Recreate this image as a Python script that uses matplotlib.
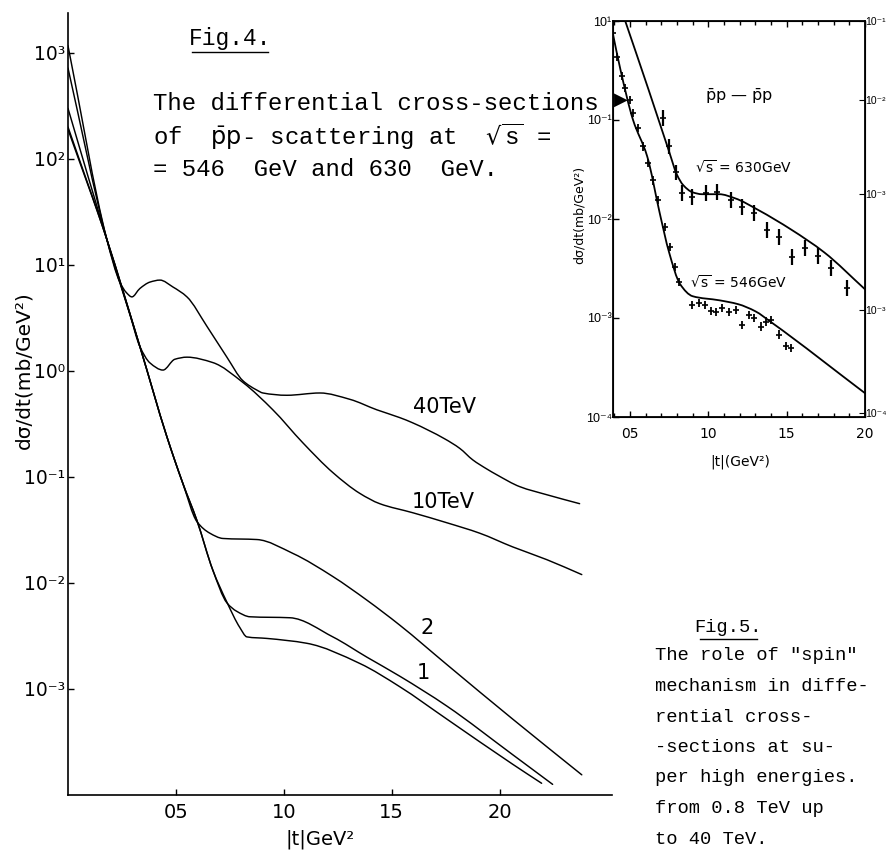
import numpy as np
import matplotlib
matplotlib.use("Agg")
import matplotlib.pyplot as plt
from matplotlib.ticker import NullLocator, FixedLocator
from matplotlib.path import Path
from matplotlib.patches import PathPatch

plt.rcParams['mathtext.default'] = 'regular'

# ---------------- Fig.4 main panel: |t| (GeV^2) vs dσ/dt (mb/GeV^2) ----------------
t_40 = [0, 0.18, 0.24, 0.27, 0.296, 0.333, 0.38, 0.426, 0.486, 0.551, 0.644, 0.736, 0.81,
        0.875, 0.903, 1.014, 1.167, 1.306, 1.431, 1.537, 1.597, 1.745, 1.815, 1.875, 1.94,
        1.986, 2.093, 2.218, 2.37]
y_40 = [1.17e3, 17.4, 6.9, 5.5, 5.0, 6.0, 6.9, 7.2, 6.2, 5.0, 2.63, 1.35, 0.81,
        0.66, 0.62, 0.59, 0.62, 0.54, 0.43, 0.363, 0.324, 0.229, 0.186, 0.145, 0.119,
        0.105, 0.081, 0.068, 0.056]

t_10 = [0, 0.18, 0.287, 0.333, 0.38, 0.44, 0.495, 0.551, 0.671, 0.81, 0.949, 1.088, 1.227,
        1.352, 1.444, 1.597, 1.755, 1.907, 2.06, 2.218, 2.38]
y_10 = [720, 17.4, 3.4, 1.7, 1.19, 1.02, 1.29, 1.35, 1.2, 0.78, 0.43, 0.21, 0.11,
        0.07, 0.056, 0.046, 0.037, 0.0295, 0.0219, 0.0166, 0.012]

t_2 = [0, 0.18, 0.333, 0.458, 0.532, 0.597, 0.657, 0.718, 0.875, 1.042, 1.227, 1.384,
       1.537, 1.755, 2.06, 2.38]
y_2 = [300, 17.4, 1.7, 0.24, 0.087, 0.038, 0.0295, 0.0263, 0.0257, 0.019, 0.0115, 0.0069,
       0.0040, 0.0017, 5.2e-4, 1.55e-4]

t_1 = [0, 0.18, 0.333, 0.458, 0.532, 0.597, 0.671, 0.736, 0.782, 0.843, 1.028, 1.227,
       1.384, 1.537, 1.755, 2.06, 2.245]
y_1 = [200, 17.4, 1.7, 0.24, 0.087, 0.039, 0.0132, 0.0065, 0.0054, 0.0048, 0.0047, 0.0031,
       0.0020, 0.00132, 6.9e-4, 2.4e-4, 1.26e-4]

t_0 = [0, 0.18, 0.333, 0.458, 0.532, 0.597, 0.671, 0.736, 0.796, 0.829, 0.921, 1.106,
       1.352, 1.537, 1.755, 2.06, 2.194]
y_0 = [190, 17.4, 1.7, 0.24, 0.087, 0.039, 0.0132, 0.0066, 0.0038, 0.0031, 0.0030, 0.0027,
       0.00174, 0.00105, 5.2e-4, 1.95e-4, 1.29e-4]

main_yticks = [1e-3, 1e-2, 1e-1, 1e0, 1e1, 1e2, 1e3]
main_yticklabels = ['10⁻³', '10⁻²', '10⁻¹', '10⁰', '10¹', '10²', '10³']
main_xticks = [0.5, 1.0, 1.5, 2.0]
main_xticklabels = ['05', '10', '15', '20']

# ---------------- Fig.4 inset: p̄p -> p̄p at 630 and 546 GeV ----------------
t_630 = [0.47, 0.62, 0.75, 0.80, 0.84, 0.90, 0.96, 1.07, 1.17, 1.32, 1.53, 1.74, 2.0]
y_630 = [1.0, 0.2, 0.048, 0.028, 0.022, 0.0186, 0.0178, 0.0178, 0.0162, 0.0123, 0.0078, 0.0046, 0.00195]
t_546 = [0.39, 0.44, 0.52, 0.61, 0.69, 0.75, 0.82, 0.90, 1.07, 1.19, 1.30, 1.40, 2.0]
y_546 = [0.76, 0.32, 0.10, 0.043, 0.0115, 0.0046, 0.0022, 0.00166, 0.00151, 0.00138, 0.00117, 9.1e-4, 1.74e-4]

pt_630 = [0.709, 0.747, 0.797, 0.835, 0.899, 0.987, 1.057, 1.146, 1.215, 1.291, 1.373, 1.449,
          1.532, 1.620, 1.703, 1.785, 1.886]
pv_630 = [0.105, 0.054, 0.0295, 0.0182, 0.0166, 0.0182, 0.0186, 0.0155, 0.0132, 0.0115, 0.0078,
          0.0066, 0.0041, 0.0051, 0.0042, 0.0032, 0.0020]
pt_546 = [0.39, 0.418, 0.449, 0.468, 0.5, 0.519, 0.551, 0.582, 0.614, 0.646, 0.677, 0.722, 0.753,
          0.785, 0.816, 0.899, 0.943, 0.981, 1.019, 1.051, 1.089, 1.133, 1.177, 1.215, 1.259,
          1.291, 1.335, 1.367, 1.399, 1.449, 1.494, 1.525]
pv_546 = [0.76, 0.43, 0.28, 0.21, 0.16, 0.118, 0.083, 0.054, 0.037, 0.0245, 0.0155, 0.0083, 0.0052,
          0.0033, 0.0023, 0.00135, 0.00142, 0.00135, 0.00118, 0.00115, 0.00126, 0.00116, 0.0012,
          0.00085, 0.00108, 0.0010, 0.00082, 0.00092, 0.00095, 0.00068, 0.00052, 0.0005]
err_630 = 0.20   # relative error
err_546 = 0.10

inset_yticks_left = [1e-4, 1e-3, 1e-2, 1e-1, 1e0]
inset_yticklabels_left = ['10⁻⁴', '10⁻³', '10⁻²', '10⁻¹', '10¹']
inset_yticks_right = [1.1e-4, 1.2e-3, 1.8e-2, 1.6e-1, 1e0]
inset_yticklabels_right = ['10⁻⁴', '10⁻³', '10⁻³', '10⁻²', '10⁻¹']
inset_xticks = [0.5, 1.0, 1.5, 2.0]
inset_xticklabels = ['05', '10', '15', '20']

W, H = 888, 852
fig = plt.figure(figsize=(W / 100, H / 100), dpi=100)
narrow = ['Liberation Sans Narrow', 'Liberation Sans', 'DejaVu Sans']


def fx(px):
    return px / W


def fy(py):
    return 1 - py / H


def smooth_curve(axis, t, v, lw):
    """Draw a monotone (PCHIP-style) cubic through the read points, in log-y space."""
    x = np.asarray(t, float)
    L = np.log10(np.asarray(v, float))
    h = np.diff(x)
    d = np.diff(L) / h
    n = len(x)
    m = np.zeros(n)
    m[0], m[-1] = d[0], d[-1]
    for k in range(1, n - 1):
        if d[k - 1] * d[k] <= 0:
            m[k] = 0.0
        else:
            w1 = 2 * h[k] + h[k - 1]
            w2 = h[k] + 2 * h[k - 1]
            m[k] = (w1 + w2) / (w1 / d[k - 1] + w2 / d[k])
    verts = [(x[0], 10 ** L[0])]
    codes = [Path.MOVETO]
    for k in range(n - 1):
        c1 = (x[k] + h[k] / 3, 10 ** (L[k] + m[k] * h[k] / 3))
        c2 = (x[k + 1] - h[k] / 3, 10 ** (L[k + 1] - m[k + 1] * h[k] / 3))
        verts += [c1, c2, (x[k + 1], 10 ** L[k + 1])]
        codes += [Path.CURVE4] * 3
    axis.add_patch(PathPatch(Path(verts, codes), fill=False, edgecolor='black', lw=lw,
                             transform=axis.transData, capstyle='round', joinstyle='round'))


# ---- main axes ----
ax = fig.add_axes([fx(68), fy(795), fx(612) - fx(68), fy(13) - fy(795)])
ax.set_yscale('log')
ax.set_xlim(0, 2.52)
ax.set_ylim(1e-4, 10 ** 3.377)
for s in ('top', 'right'):
    ax.spines[s].set_visible(False)
for s in ('left', 'bottom'):
    ax.spines[s].set_linewidth(1.2)
for tt, yy in [(t_40, y_40), (t_10, y_10), (t_2, y_2), (t_1, y_1), (t_0, y_0)]:
    smooth_curve(ax, tt, yy, 1.05)
ax.yaxis.set_major_locator(FixedLocator(main_yticks))
ax.yaxis.set_minor_locator(NullLocator())
ax.set_yticklabels(main_yticklabels)
ax.set_xticks(main_xticks)
ax.set_xticklabels(main_xticklabels)
ax.tick_params(axis='both', direction='in', length=4, width=1, labelsize=14)
ax.tick_params(axis='y', pad=2, labelsize=13.5)
ax.tick_params(axis='x', pad=6)

ax.text(1.745, 10 ** -0.34, '40TeV', fontsize=15, ha='center', va='center')
ax.text(1.736, 10 ** -1.236, '10TeV', fontsize=15, ha='center', va='center')
ax.text(1.662, 10 ** -2.42, '2', fontsize=15, ha='center', va='center')
ax.text(1.644, 10 ** -2.85, '1', fontsize=15, ha='center', va='center')

fig.text(fx(320), fy(839), '|t|GeV²', fontsize=14, ha='center', va='center')
fig.text(fx(24), fy(370), 'dσ/dt(mb/GeV²)', fontsize=14.5, ha='center', va='center', rotation=90)

# ---- typewriter captions ----
mono = 'Liberation Mono'
fig.text(fx(230), fy(38), 'Fig.4.', family=mono, fontsize=16.5, ha='center', va='center')
fig.add_artist(plt.Line2D([fx(192), fx(268)], [fy(52), fy(52)], color='black', lw=1.0))
fig.text(fx(153), fy(103), 'The differential cross-sections', family=mono, fontsize=17.3,
         ha='left', va='center')
fig.text(fx(153), fy(137), r'of  $\bar{\mathrm{p}}\mathrm{p}$- scattering at  $\sqrt{s}$ =',
         family=mono, fontsize=17.3, ha='left', va='center')
fig.text(fx(153), fy(170), '= 546  GeV and 630  GeV.', family=mono, fontsize=17.3,
         ha='left', va='center')
fig.text(fx(621), fy(100), '▶', fontsize=13, ha='center', va='center')

fig.text(fx(728), fy(627), 'Fig.5.', family=mono, fontsize=13.5, ha='center', va='center')
fig.add_artist(plt.Line2D([fx(700), fx(757)], [fy(639), fy(639)], color='black', lw=1.0))
fig5_lines = ['The role of "spin"', 'mechanism in diffe-', 'rential cross-', '-sections at su-',
              'per high energies.', 'from 0.8 TeV up', 'to 40 TeV.']
for i, line in enumerate(fig5_lines):
    fig.text(fx(655), fy(656 + 30.5 * i), line, family=mono, fontsize=13.5, ha='left', va='center')

# ---- inset axes ----
ia = fig.add_axes([fx(613), fy(417), fx(865) - fx(613), fy(21) - fy(417)])
ia.set_yscale('log')
ia.set_xlim(0.392, 2.0)
ia.set_ylim(1e-4, 1e0)
for s in ia.spines.values():
    s.set_linewidth(1.3)
smooth_curve(ia, t_630, y_630, 1.3)
smooth_curve(ia, t_546, y_546, 1.3)
pv = np.array(pv_630)
ia.errorbar(pt_630, pv, yerr=[pv - pv / (1 + err_630), pv * err_630], fmt='none',
            ecolor='black', elinewidth=1.6, capsize=0)
ia.plot(pt_630, pv, ls='none', marker='_', ms=4, mew=1.2, color='black')
pv2 = np.array(pv_546)
ia.errorbar(pt_546, pv2, yerr=[pv2 - pv2 / (1 + err_546), pv2 * err_546], fmt='none',
            ecolor='black', elinewidth=1.3, capsize=0)
ia.plot(pt_546, pv2, ls='none', marker='_', ms=4, mew=1.2, color='black')

ia.yaxis.set_major_locator(FixedLocator(inset_yticks_left))
ia.yaxis.set_minor_locator(NullLocator())
ia.set_yticklabels(inset_yticklabels_left, family=narrow)
ia.set_xticks(inset_xticks)
ia.set_xticklabels(inset_xticklabels)
ia.xaxis.set_minor_locator(FixedLocator(np.arange(0.4, 2.0, 0.1)))
ia.tick_params(axis='both', which='both', direction='in', top=True, labelsize=10, width=1)
ia.tick_params(axis='both', which='major', length=4)
ia.tick_params(axis='both', which='minor', length=3)
ia.tick_params(axis='y', pad=1, labelsize=9)
ia.tick_params(axis='x', pad=7)
ir = ia.twinx()
ir.set_yscale('log')
ir.set_ylim(1e-4, 1e0)
ir.yaxis.set_major_locator(FixedLocator(inset_yticks_right))
ir.yaxis.set_minor_locator(NullLocator())
ir.set_yticklabels(inset_yticklabels_right, family=narrow)
ir.tick_params(axis='y', direction='in', length=4, labelsize=7.5, pad=0.5)

ia.text(0.50, 0.81, r'$\bar{\mathrm{p}}$p — $\bar{\mathrm{p}}$p', transform=ia.transAxes,
        fontsize=11.5, ha='center', va='center')
ia.text(0.52, 0.63, r'$\sqrt{s}$ = 630GeV', transform=ia.transAxes, fontsize=10,
        ha='center', va='center')
ia.text(0.50, 0.34, r'$\sqrt{s}$ = 546GeV', transform=ia.transAxes, fontsize=10,
        ha='center', va='center')
fig.text(fx(579), fy(215), 'dσ/dt(mb/GeV²)', fontsize=9, ha='center', va='center', rotation=90)
fig.text(fx(740), fy(462), '|t|(GeV²)', fontsize=10, ha='center', va='center')

fig.savefig('out.png', dpi=100)
